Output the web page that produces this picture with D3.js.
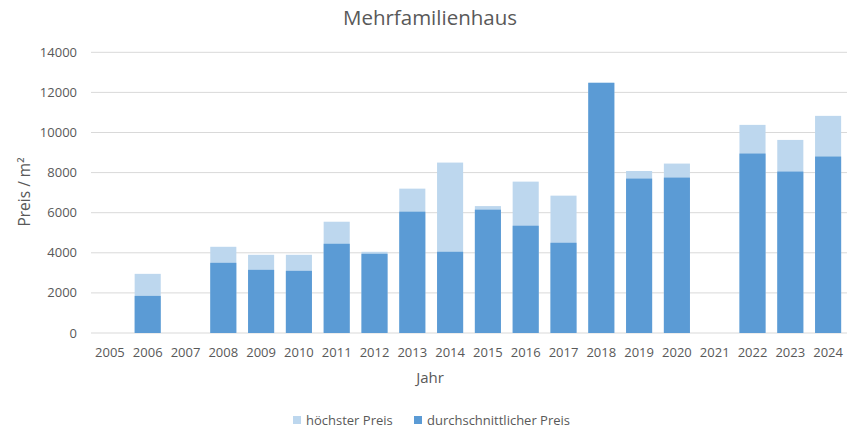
<!DOCTYPE html>
<html>
<head>
<meta charset="utf-8">
<script src="https://cdn.jsdelivr.net/npm/d3@7"></script>
<style>
  body { margin: 0; background: #fff; }
  text { font-family: "Open Sans", "Liberation Sans", sans-serif; }
</style>
</head>
<body>
<svg id="chart" width="862" height="435"></svg>
<script>
// data
const years = ["2005","2006","2007","2008","2009","2010","2011","2012","2013","2014",
               "2015","2016","2017","2018","2019","2020","2021","2022","2023","2024"];
const hoechsterPreis = [null,2950,null,4300,3900,3900,5550,4050,7200,8500,
                        6330,7550,6850,12480,8080,8450,null,10380,9630,10830];
const durchschnittPreis = [null,1850,null,3500,3150,3100,4450,3950,6050,4050,
                           6150,5350,4500,12480,7700,7750,null,8950,8050,8800];
const yTicks = [0,2000,4000,6000,8000,10000,12000,14000];

const svg = d3.select("#chart");
const plotLeft = 91, plotRight = 847, plotTop = 52.3, plotBottom = 333;

let x = d3.scaleBand().domain(years).range([plotLeft, plotRight]).paddingInner(0.31).paddingOuter(0.155);
let y = d3.scaleLinear().domain([0, 14000]).range([plotBottom, plotTop]);

// gridlines
svg.append("g")
  .selectAll("line")
  .data(yTicks)
  .join("line")
  .attr("x1", plotLeft).attr("x2", plotRight)
  .attr("y1", d => y(d)).attr("y2", d => y(d))
  .attr("stroke", "#d9d9d9")
  .attr("stroke-width", 1);

// y tick labels
svg.append("g")
  .selectAll("text")
  .data(yTicks)
  .join("text")
  .attr("x", 77)
  .attr("y", d => y(d) + 4.5)
  .attr("text-anchor", "end")
  .attr("font-size", 13)
  .attr("fill", "#595959")
  .text(d => d);

// light bars (hoechster preis) drawn behind
svg.append("g")
  .selectAll("rect")
  .data(years.map((yr, i) => ({yr, v: hoechsterPreis[i]})).filter(d => d.v != null))
  .join("rect")
  .attr("x", d => x(d.yr))
  .attr("width", x.bandwidth())
  .attr("y", d => y(d.v))
  .attr("height", d => y(0) - y(d.v))
  .attr("fill", "#bdd7ee");

// dark bars in front
svg.append("g")
  .selectAll("rect")
  .data(years.map((yr, i) => ({yr, v: durchschnittPreis[i]})).filter(d => d.v != null))
  .join("rect")
  .attr("x", d => x(d.yr))
  .attr("width", x.bandwidth())
  .attr("y", d => y(d.v))
  .attr("height", d => y(0) - y(d.v))
  .attr("fill", "#5b9bd5");

// x axis labels
svg.append("g")
  .selectAll("text")
  .data(years)
  .join("text")
  .attr("x", d => x(d) + x.bandwidth() / 2)
  .attr("y", 357)
  .attr("text-anchor", "middle")
  .attr("font-size", 13)
  .attr("fill", "#595959")
  .text(d => d);

// titles
svg.append("text")
  .attr("x", 430).attr("y", 25)
  .attr("text-anchor", "middle")
  .attr("font-size", 20.5)
  .attr("fill", "#595959")
  .text("Mehrfamilienhaus");

svg.append("text")
  .attr("x", 430).attr("y", 383)
  .attr("text-anchor", "middle")
  .attr("font-size", 15)
  .attr("fill", "#595959")
  .text("Jahr");

svg.append("text")
  .attr("transform", "translate(30,192) rotate(-90)")
  .attr("text-anchor", "middle")
  .attr("font-size", 15.5)
  .attr("fill", "#595959")
  .text("Preis / m²");

// legend
const legend = [
  {name: "höchster Preis", color: "#bdd7ee", x: 293},
  {name: "durchschnittlicher Preis", color: "#5b9bd5", x: 414}
];
const lg = svg.append("g").selectAll("g").data(legend).join("g");
lg.append("rect")
  .attr("x", d => d.x).attr("y", 416)
  .attr("width", 8).attr("height", 8)
  .attr("fill", d => d.color);
lg.append("text")
  .attr("x", d => d.x + 13).attr("y", 425)
  .attr("font-size", 13)
  .attr("fill", "#595959")
  .text(d => d.name);
</script>
</body>
</html>
